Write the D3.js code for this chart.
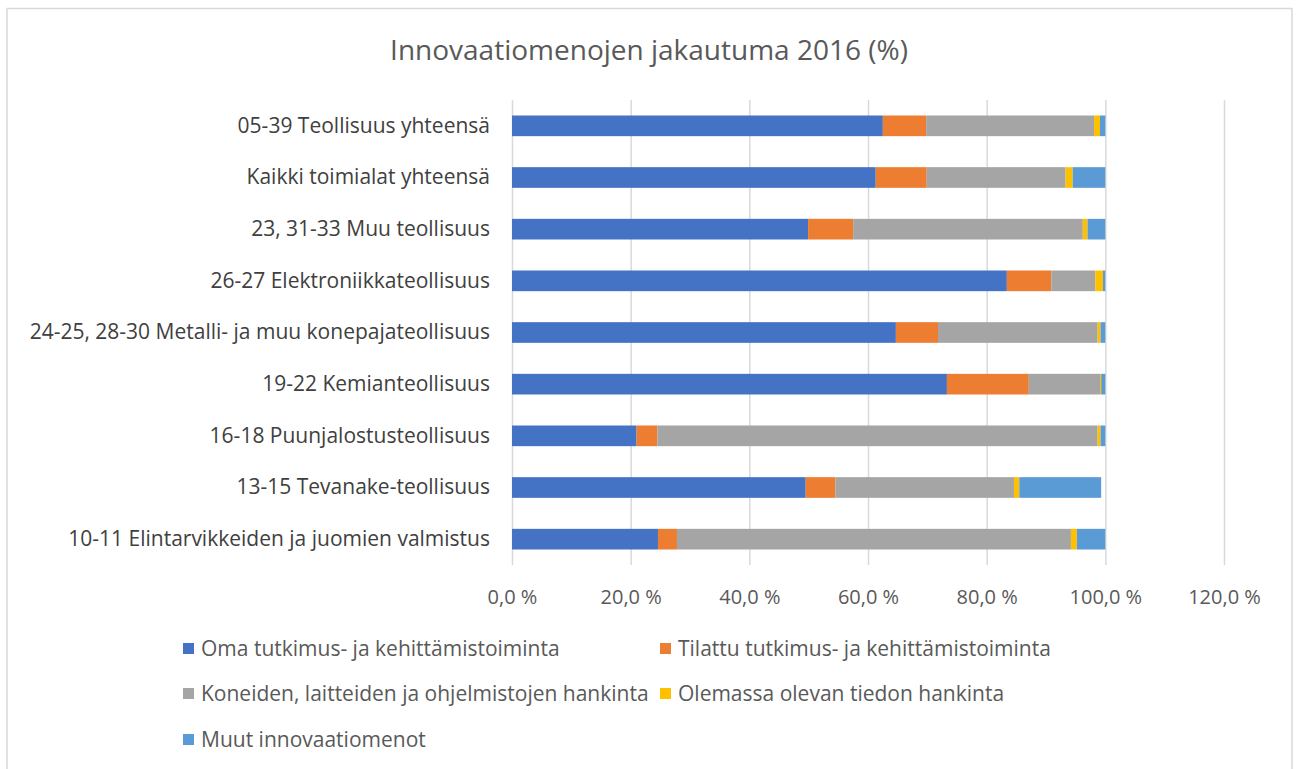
<!DOCTYPE html>
<html>
<head>
<meta charset="utf-8">
<script src="https://cdn.jsdelivr.net/npm/d3@7"></script>
<style>
  body { margin: 0; background: #fff; }
  svg { display: block; font-family: "Open Sans", sans-serif; }
</style>
</head>
<body>
<svg></svg>
<script>
var width = 1298, height = 769;
var margin = {top: 100, right: 74, bottom: 204, left: 512};

// data, top row first
var categories = [
  "05-39 Teollisuus yhteensä",
  "Kaikki toimialat yhteensä",
  "23, 31-33 Muu teollisuus",
  "26-27 Elektroniikkateollisuus",
  "24-25, 28-30 Metalli- ja muu konepajateollisuus",
  "19-22 Kemianteollisuus",
  "16-18 Puunjalostusteollisuus",
  "13-15 Tevanake-teollisuus",
  "10-11 Elintarvikkeiden ja juomien valmistus"
];
var seriesNames = [
  "Oma tutkimus- ja kehittämistoiminta",
  "Tilattu tutkimus- ja kehittämistoiminta",
  "Koneiden, laitteiden ja ohjelmistojen hankinta",
  "Olemassa olevan tiedon hankinta",
  "Muut innovaatiomenot"
];
var oma      = [62.5, 61.3, 49.9, 83.4, 64.7, 73.3, 21.0, 49.5, 24.6];
var tilattu  = [ 7.3,  8.6,  7.6,  7.5,  7.1, 13.8,  3.5,  5.0,  3.2];
var koneet   = [28.3, 23.4, 38.7,  7.4, 26.9, 12.0, 74.2, 30.1, 66.4];
var tieto    = [ 1.0,  1.2,  0.8,  1.3,  0.5,  0.2,  0.5,  0.9,  1.0];
var muut     = [ 0.9,  5.5,  3.0,  0.4,  0.8,  0.7,  0.8, 13.8,  4.8];
var xTicks = [0, 20, 40, 60, 80, 100, 120];
var colors = ["#4472c4", "#ed7d31", "#a5a5a5", "#ffc000", "#5b9bd5"];

var rows = categories.map(function(c, i) {
  return {cat: c, s0: oma[i], s1: tilattu[i], s2: koneet[i], s3: tieto[i], s4: muut[i]};
});
var keys = ["s0", "s1", "s2", "s3", "s4"];
var stacked = d3.stack().keys(keys)(rows);

var svg = d3.select("svg").attr("width", width).attr("height", height);

// outer frame (bottom edge falls outside the picture)
svg.append("rect")
    .attr("x", 7).attr("y", 8.5)
    .attr("width", 1285).attr("height", height + 10)
    .style("fill", "#fff")
    .style("stroke", "#d9d9d9")
    .style("stroke-width", 1.5);

svg.append("text")
    .attr("x", 649).attr("y", 60)
    .attr("text-anchor", "middle")
    .style("font-size", "28px")
    .style("fill", "#595959")
    .text("Innovaatiomenojen jakautuma 2016 (%)");

var iw = width - margin.left - margin.right;
var ih = height - margin.top - margin.bottom;

var x = d3.scaleLinear().domain([0, 120]).range([0, iw]);
var y = d3.scaleBand().domain(categories).range([0, ih]).paddingInner(0.6).paddingOuter(0.3);

var g = svg.append("g").attr("transform", "translate(" + margin.left + "," + margin.top + ")");

// grid
var gx = g.append("g")
    .attr("transform", "translate(0," + ih + ")")
    .call(d3.axisBottom(x).tickValues(xTicks).tickSize(-ih)
        .tickFormat(function(d) { return d.toFixed(1).replace(".", ",") + " %"; }));
gx.select(".domain").remove();
gx.selectAll("line").style("stroke", "#d9d9d9").style("stroke-width", 1.5);
gx.selectAll("text")
    .attr("y", 25)
    .style("font-family", "'Open Sans', sans-serif")
    .style("font-size", "20px")
    .style("fill", "#595959");

// bars
g.selectAll(".layer")
  .data(stacked)
  .enter().append("g")
    .attr("class", "layer")
    .style("fill", function(d, i) { return colors[i]; })
  .selectAll("rect")
  .data(function(d) { return d; })
  .enter().append("rect")
    .attr("x", function(d) { return x(d[0]); })
    .attr("y", function(d) { return y(d.data.cat); })
    .attr("width", function(d) { return x(d[1]) - x(d[0]); })
    .attr("height", y.bandwidth());

// category labels
var gy = g.append("g")
    .call(d3.axisLeft(y).tickSize(0).tickPadding(22));
gy.select(".domain").remove();
gy.selectAll("text")
    .style("font-family", "'Open Sans', sans-serif")
    .style("font-size", "21px")
    .style("fill", "#404040");

// legend
var legendPos = [[183, 649], [660, 649], [183, 694], [660, 694], [183, 740]];
var lg = svg.append("g").selectAll("g")
  .data(seriesNames)
  .enter().append("g")
    .attr("transform", function(d, i) { return "translate(" + legendPos[i][0] + "," + legendPos[i][1] + ")"; });
lg.append("rect")
    .attr("x", 0).attr("y", -6)
    .attr("width", 11).attr("height", 11)
    .style("fill", function(d, i) { return colors[i]; });
lg.append("text")
    .attr("x", 18).attr("y", 7)
    .style("font-size", "21px")
    .style("fill", "#595959")
    .text(function(d) { return d; });
</script>
</body>
</html>
